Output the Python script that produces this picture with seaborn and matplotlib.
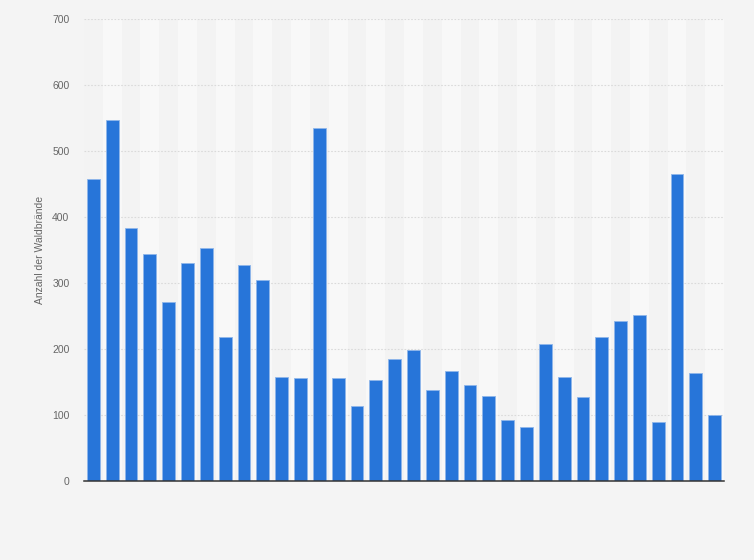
import numpy as np
import pandas as pd
import matplotlib
matplotlib.use('Agg')
import matplotlib.pyplot as plt
import seaborn as sns

# Werte (34 Balken, keine Achsenbeschriftung sichtbar)
jahre = [str(j) for j in range(1987, 2021)]
waldbraende = [457, 547, 383, 344, 271, 331, 353, 219, 328, 304,
               157, 156, 535, 156, 113, 153, 185, 198, 138, 166,
               146, 129, 93, 82, 207, 157, 128, 219, 242, 251,
               90, 465, 163, 100]
yticks = [0, 100, 200, 300, 400, 500, 600, 700]

df = pd.DataFrame({'jahr': jahre, 'anzahl': waldbraende})

sns.set_style('white')
plt.rcParams['font.family'] = ['Liberation Sans', 'DejaVu Sans']

fig = plt.figure(figsize=(7.54, 5.6), dpi=100)
fig.patch.set_facecolor('#f4f4f4')
ax = fig.add_axes([0.1114, 0.141, 0.849, 0.825])
ax.set_facecolor('#f3f3f3')

# abwechselnd helle Spalten im Hintergrund
for i in range(len(jahre)):
    if i % 2 == 1:
        ax.axvspan(i - 0.5, i + 0.5, color='#f8f8f8', zorder=0, lw=0)

sns.barplot(data=df, x='jahr', y='anzahl', color='#2775d9', saturation=1,
            width=0.68, edgecolor='#8fb6ea', linewidth=0.6, ax=ax, zorder=3)

ax.set_xlim(-0.5, len(jahre) - 0.5)
ax.set_ylim(0, 700)
ax.set_yticks(yticks)
ax.set_yticklabels([str(t) for t in yticks], fontsize=7.5, color='#666666')
ax.tick_params(axis='y', length=0, pad=10.5)
ax.set_xticks([])
ax.set_xlabel('')
ax.set_ylabel('Anzahl der Waldbrände', fontsize=7.5, color='#666666', labelpad=5)

ax.yaxis.grid(True, color='#dadada', linestyle=(0, (1.5, 1.5)), linewidth=0.8, zorder=1)
ax.set_axisbelow(True)
for s in ['top', 'right', 'left']:
    ax.spines[s].set_visible(False)
ax.spines['bottom'].set_color('#333333')
ax.spines['bottom'].set_linewidth(1.1)
ax.spines['bottom'].set_zorder(5)

fig.savefig('out.png', dpi=100, facecolor=fig.get_facecolor())
